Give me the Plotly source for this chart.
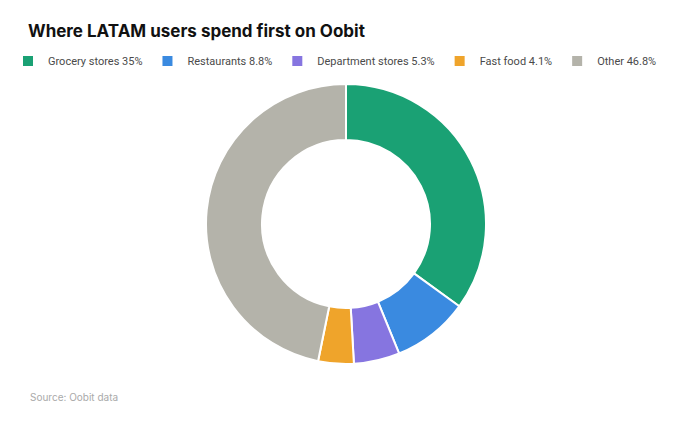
import plotly.graph_objects as go

categories = ["Grocery stores", "Restaurants", "Department stores", "Fast food", "Other"]
shares = [35, 8.8, 5.3, 4.1, 46.8]
colors = ["#1aa174", "#3a8ae0", "#8675e0", "#efa42b", "#b4b3aa"]

W, H = 680, 427
PAD = 8  # page body margin of the exported html
cx, cy, r = 346 - PAD, 224 - PAD, 140

labels = [f"{c} {v}%" for c, v in zip(categories, shares)]

fig = go.Figure(
    go.Pie(
        labels=labels,
        values=shares,
        hole=0.6,
        sort=False,
        direction="clockwise",
        rotation=0,
        textinfo="none",
        hoverinfo="label",
        marker={"colors": colors, "line": {"color": "white", "width": 2}},
        domain={"x": [(cx - r) / W, (cx + r) / W], "y": [1 - (cy + r) / H, 1 - (cy - r) / H]},
    )
)

fig.update_layout(
    width=W,
    height=H,
    paper_bgcolor="white",
    font={"family": "Inter, Noto Sans, sans-serif", "color": "#555555", "size": 12},
    margin={"l": 0, "r": 0, "t": 0, "b": 0},
    title={
        "text": "<b>Where LATAM users spend first on Oobit</b>",
        "x": (28 - PAD) / W,
        "xanchor": "left",
        "xref": "container",
        "y": 1 - (31 - PAD) / H,
        "yanchor": "middle",
        "yref": "container",
        "font": {"size": 17, "color": "#111111"},
    },
    legend={
        "orientation": "h",
        "x": 0,
        "xanchor": "left",
        "y": 1 - (61 - PAD) / H,
        "yanchor": "middle",
        "font": {"family": "Roboto, Inter, sans-serif", "size": 11, "color": "#4a4a4a"},
        "itemclick": False,
    },
    annotations=[
        {
            "text": "Source: Oobit data",
            "x": (28 - PAD) / W,
            "y": 1 - (397 - PAD) / H,
            "xref": "paper",
            "yref": "paper",
            "xanchor": "left",
            "yanchor": "middle",
            "showarrow": False,
            "font": {"size": 10, "color": "#aaaaaa"},
        }
    ],
)

fig.write_html("out.html")
